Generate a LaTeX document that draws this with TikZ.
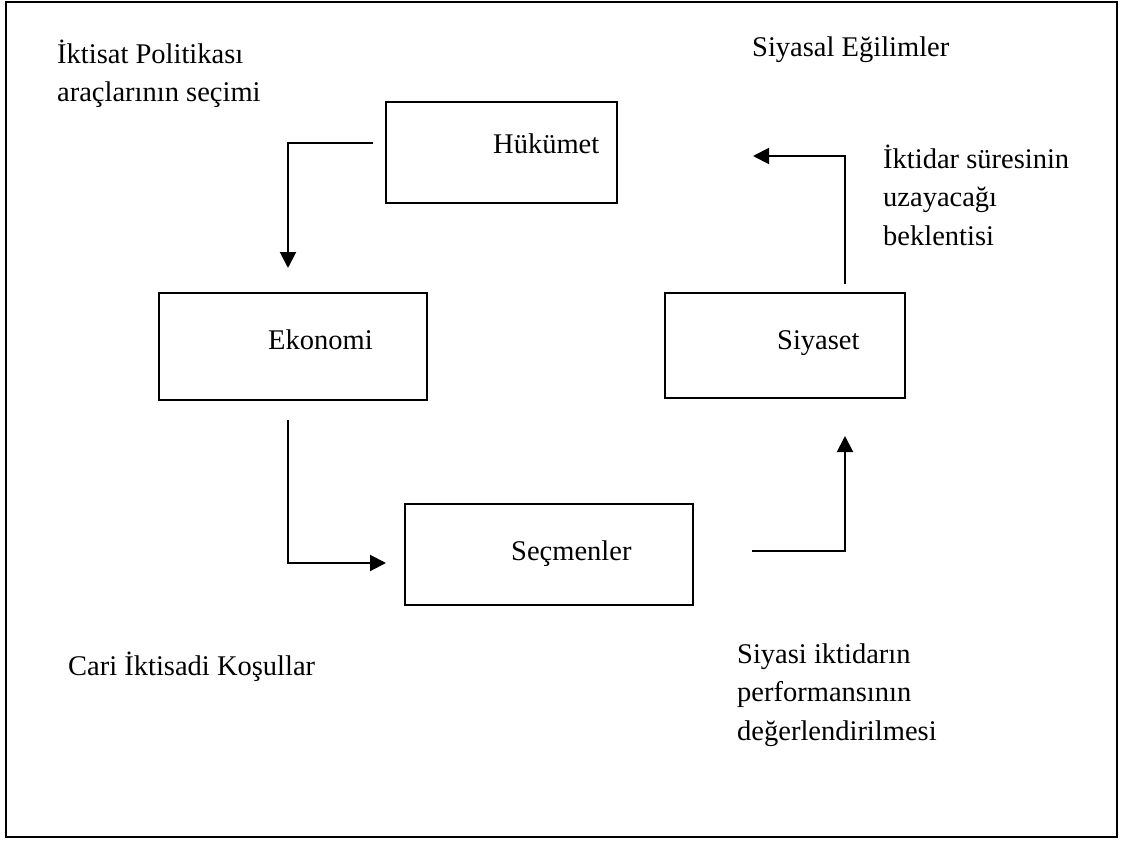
\documentclass[tikz,border=0pt]{standalone}
\usepackage{fontspec}
\setmainfont{Liberation Serif}
\usetikzlibrary{arrows.meta,calc}
\begin{document}
\begin{tikzpicture}[x=1pt,y=-1pt,
  font=\fontsize{28.5}{38.5}\selectfont,
  box/.style={draw,line width=2pt,inner sep=0pt},
  txt/.style={inner sep=0pt,anchor=base west,align=left},
  flow/.style={line width=2pt,-{Triangle[length=16pt,width=16pt]}}]
  \useasboundingbox (0,0) rectangle (1125,843);
  % outer frame
  \draw[line width=2.6pt] (6,2) rectangle (1117,837);

  % boxes
  \node[box,minimum width=231pt,minimum height=101pt] (huk) at (501.5,152.5) {};
  \node[box,minimum width=268pt,minimum height=107pt] (eko) at (293,346.5) {};
  \node[box,minimum width=240pt,minimum height=105pt] (siy) at (785,345.5) {};
  \node[box,minimum width=288pt,minimum height=101pt] (sec) at (549,554.5) {};

  % box labels
  \node[txt] (hukl) at (493,153) {Hükümet};
  \node[txt] (ekol) at (268,349) {Ekonomi};
  \node[txt] (siyl) at (777,349) {Siyaset};
  \node[txt] (secl) at (511,560) {Seçmenler};

  % free labels (anchored on the baseline of their last line)
  \node[txt] (pol) at (57,102) {İktisat Politikası\\araçlarının seçimi};
  \node[txt] (egi) at (752,57) {Siyasal Eğilimler};
  \node[txt] (ikt) at (883,245) {İktidar süresinin\\uzayacağı\\beklentisi};
  \node[txt] (cari) at (68,675) {Cari İktisadi Koşullar};
  \node[txt] (perf) at (737,740) {Siyasi iktidarın\\performansının\\değerlendirilmesi};

  % connector end points
  \coordinate (a1) at (373,143);
  \coordinate (a2) at (288,268);
  \coordinate (b1) at (288,420);
  \coordinate (b2) at (386,563);
  \coordinate (c1) at (752,551);
  \coordinate (c2) at (845,436);
  \coordinate (d1) at (845,284);
  \coordinate (d2) at (753,156);

  % connectors
  \draw[flow] (a1) -| (a2);
  \draw[flow] (b1) |- (b2);
  \draw[flow] (c1) -| (c2);
  \draw[flow] (d1) |- (d2);
\end{tikzpicture}
\end{document}
